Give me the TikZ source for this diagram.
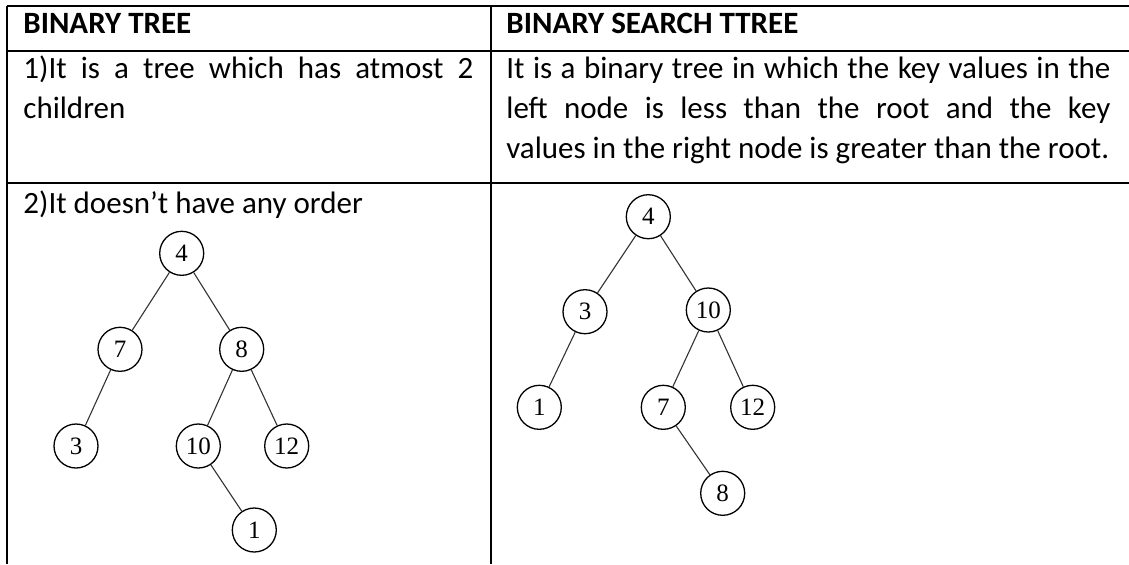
\documentclass[tikz,border=0pt]{standalone}
\usepackage{fontspec}
\setmainfont{Carlito}
\newfontfamily\keyfont{Liberation Serif}
\usetikzlibrary{positioning}

\begin{document}
\begin{tikzpicture}[x=0.5pt,y=-0.5pt,
  rule/.style={line width=0.9pt},
  cellline/.style={anchor=base west, inner sep=0pt, font=\fontsize{15.5}{20}\selectfont},
  headline/.style={anchor=base west, inner sep=0pt, font=\fontsize{15.5}{20}\selectfont\bfseries},
  treenode/.style={circle, draw, line width=0.65pt, minimum size=22pt, inner sep=0pt, font=\keyfont\fontsize{12.5}{14}\selectfont},
  treeedge/.style={line width=0.55pt, black!80}]

\useasboundingbox (0,0) rectangle (1129,564);

% table rules
\draw[rule] (7,6) -- (1129,6);
\draw[rule] (7,51) -- (1129,51);
\draw[rule] (7,183) -- (1129,183);
\draw[rule] (7,6) -- (7,564);
\draw[rule] (490.7,6) -- (490.7,564);

% header
\node[headline] (hleft) at (23,33) {BINARY TREE};
\node[headline] (hright) at (506,33) {BINARY SEARCH TTREE};

% first row
\node[cellline] (lonea) at (23,78) {\makebox[225pt][s]{1)It is a tree which has atmost 2}};
\node[cellline] (loneb) at (23,118) {children};
\node[cellline] (ronea) at (506,78) {\makebox[302pt][s]{It is a binary tree in which the key values in the}};
\node[cellline] (roneb) at (506,118) {\makebox[302pt][s]{left node is less than the root and the key}};
\node[cellline] (ronec) at (506,158) {values in the right node is greater than the root.};

% second row
\node[cellline] (ltwo) at (23,213) {2)It doesn’t have any order};

% binary tree
\node[treenode] (bt4) at (181.7,253.3) {4};
\node[treenode] (bt7) at (120,349.3) {7};
\node[treenode] (bt8) at (241.7,349.3) {8};
\node[treenode] (bt3) at (76,446) {3};
\node[treenode] (bt10) at (198.3,446) {10};
\node[treenode] (bt12) at (286.7,446) {12};
\node[treenode] (bt1) at (254.3,530) {1};
\draw[treeedge] (bt4) -- (bt7);
\draw[treeedge] (bt4) -- (bt8);
\draw[treeedge] (bt7) -- (bt3);
\draw[treeedge] (bt8) -- (bt10);
\draw[treeedge] (bt8) -- (bt12);
\draw[treeedge] (bt10) -- (bt1);

% binary search tree
\node[treenode] (bs4) at (648.3,216.7) {4};
\node[treenode] (bs3) at (585,311.7) {3};
\node[treenode] (bs10) at (708.3,310) {10};
\node[treenode] (bs1) at (539.3,407.3) {1};
\node[treenode] (bs7) at (663.3,407.3) {7};
\node[treenode] (bs12) at (752.7,407.3) {12};
\node[treenode] (bs8) at (722.7,493.3) {8};
\draw[treeedge] (bs4) -- (bs3);
\draw[treeedge] (bs4) -- (bs10);
\draw[treeedge] (bs3) -- (bs1);
\draw[treeedge] (bs10) -- (bs7);
\draw[treeedge] (bs10) -- (bs12);
\draw[treeedge] (bs7) -- (bs8);
\end{tikzpicture}
\end{document}
